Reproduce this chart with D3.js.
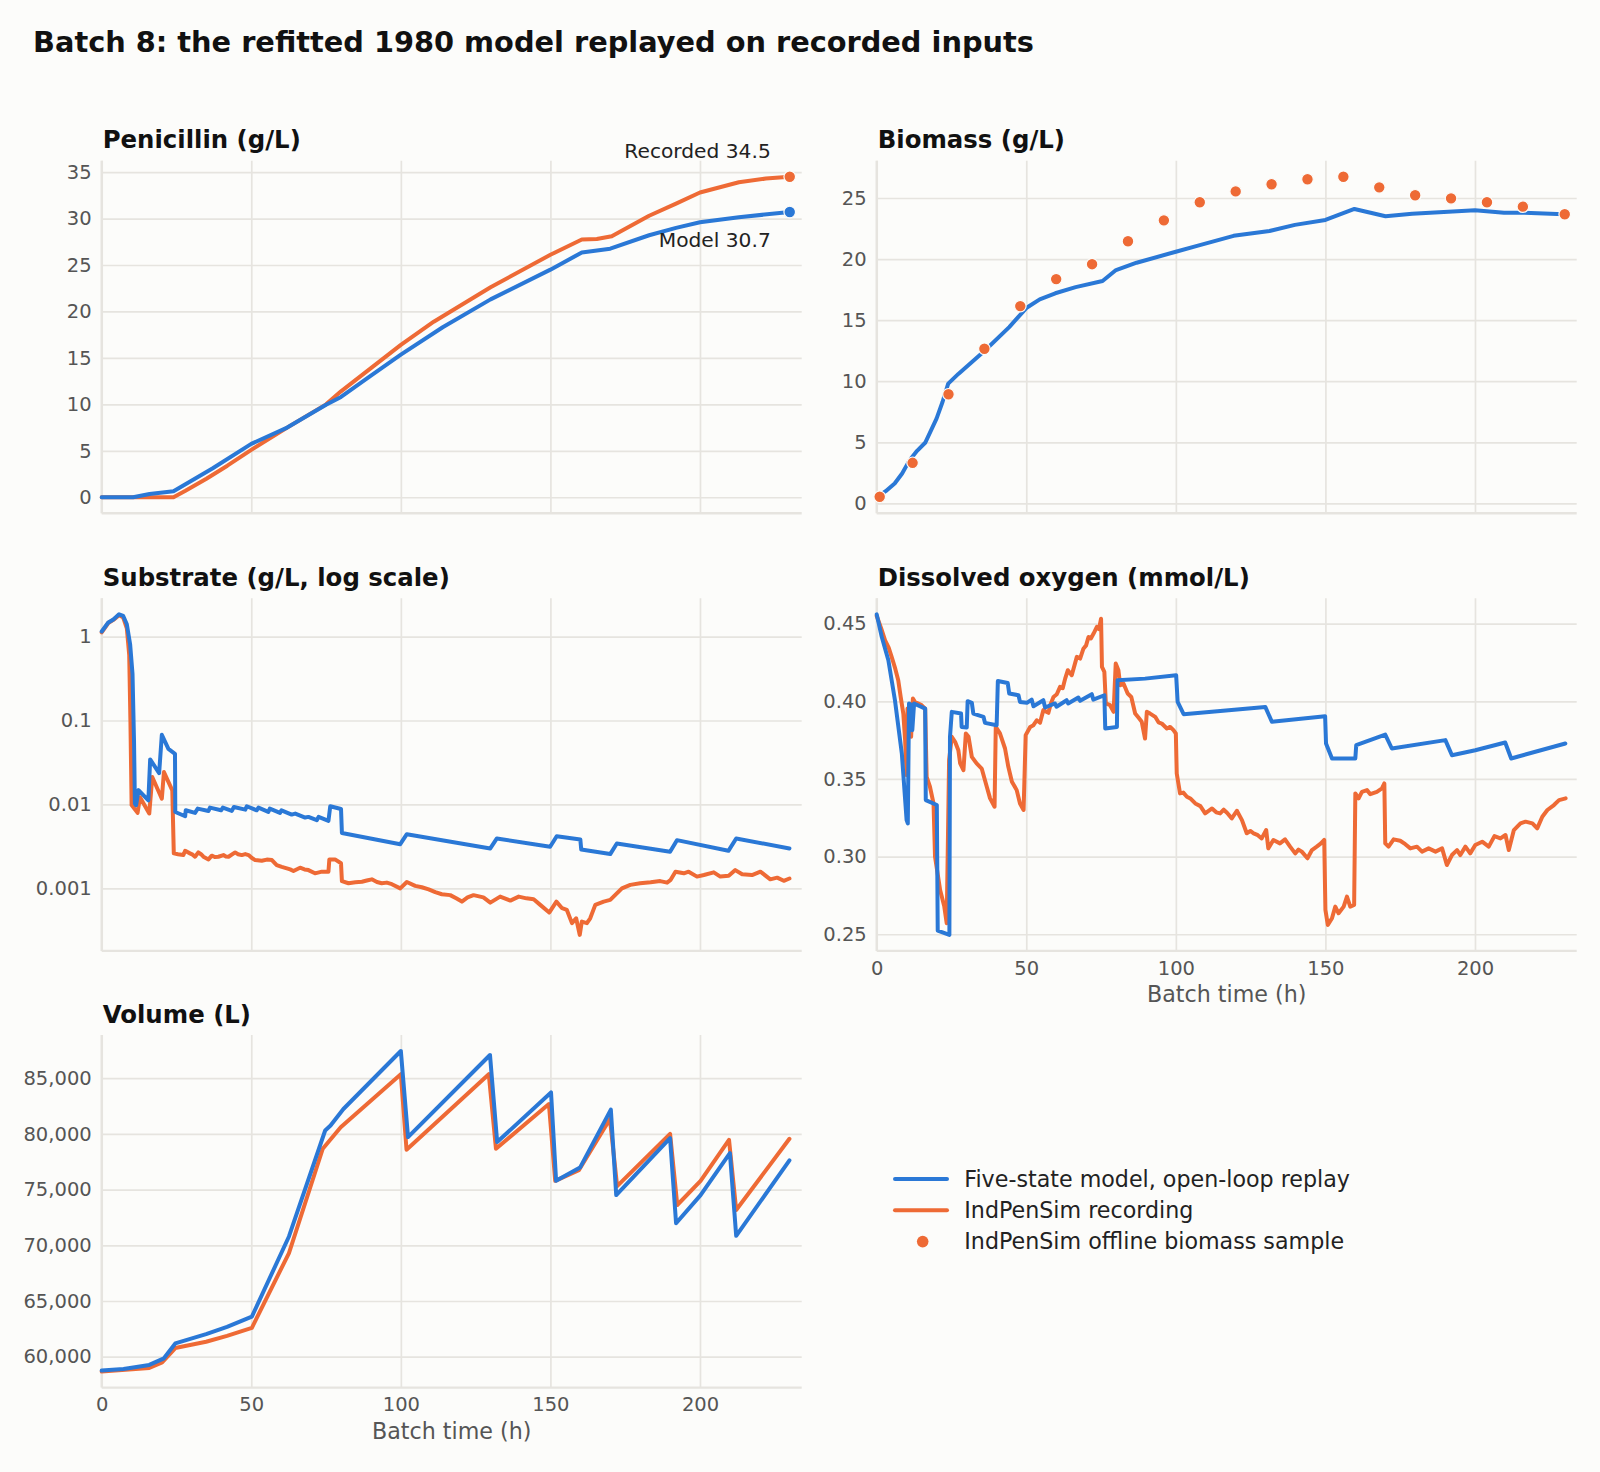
<!DOCTYPE html>
<html>
<head>
<meta charset="utf-8">
<script src="https://d3js.org/d3.v7.min.js"></script>
<style>
  body { margin: 0; background: #fcfcfa; }
  svg { display: block; font-family: "DejaVu Sans", sans-serif; }
</style>
</head>
<body>
<svg id="chart" width="1600" height="1472"></svg>
<script>
// ---- data (hours, value) ----
const hourTicks = [0, 50, 100, 150, 200];

const penModel = [[0,0],[10.5,0],[16,0.35],[24,0.65],[37,3.1],[50,5.75],[62,7.5],[75,9.95],[80,10.8],[90,13.1],[100,15.35],[114,18.3],[130,21.3],[150,24.5],[160.5,26.35],[170,26.75],[183,28.2],[192,29.0],[200,29.6],[213,30.15],[230,30.7]];
const penRecorded = [[0,0],[24,0],[28,0.7],[35,2.0],[42,3.4],[50,5.1],[62,7.5],[75,10.0],[80,11.4],[90,13.9],[100,16.4],[111,18.9],[130,22.6],[150,26.1],[160.5,27.75],[165.5,27.8],[170.5,28.1],[183,30.3],[192,31.6],[200,32.8],[213,33.9],[222,34.3],[230,34.5]];
const penTicks = [0, 5, 10, 15, 20, 25, 30, 35];

const bioModel = [[0,0.5],[0.8,0.63],[3,1.0],[6,1.63],[8.5,2.45],[11,3.54],[13.5,4.3],[16.2,4.96],[20,6.94],[22,8.3],[23.9,9.8],[27.3,10.6],[36,12.47],[44.3,14.43],[50,15.99],[54.5,16.7],[59.7,17.2],[66.5,17.7],[75.5,18.2],[80,19.1],[86.9,19.7],[100,20.6],[107.4,21.1],[119.3,21.9],[131.3,22.3],[139.8,22.8],[150,23.2],[159.7,24.1],[170.1,23.5],[179,23.7],[192.6,23.9],[200,24.0],[209.7,23.8],[216.5,23.8],[229.6,23.67]];
const bioSampleHours = [1, 12, 24, 36, 48, 60, 72, 84, 96, 108, 120, 132, 144, 156, 168, 180, 192, 204, 216, 230];
const bioSampleValues = [0.54, 3.32, 8.93, 12.66, 16.15, 18.36, 19.58, 21.46, 23.17, 24.65, 25.54, 26.12, 26.53, 26.74, 25.87, 25.22, 24.97, 24.65, 24.29, 23.67];
const bioTicks = [0, 5, 10, 15, 20, 25];

const subModel = [[0,1.15],[2.2,1.47],[3.9,1.6],[5.8,1.84],[7.2,1.76],[8.4,1.4],[9.5,0.81],[10.3,0.36],[10.8,0.058],[11.1,0.0102],[11.5,0.0098],[12.3,0.0148],[15.6,0.0112],[16.2,0.0344],[19.2,0.0236],[20.1,0.0674],[22.3,0.0458],[24.5,0.040],[24.6,0.00812],[27.9,0.00723],[28.1,0.00851],[31.2,0.00792],[32.1,0.00892],[35.7,0.00836],[36.2,0.00916],[39.9,0.00851],[40.5,0.00916],[43.5,0.00836],[44.2,0.00933],[48,0.00867],[48.5,0.00951],[51.8,0.00851],[52.4,0.00916],[55.7,0.00814],[56.2,0.00892],[59.6,0.00792],[60.1,0.00851],[63.5,0.00757],[64.7,0.00778],[68,0.00697],[69.1,0.0071],[71.9,0.00648],[72.5,0.0071],[75.8,0.00637],[76.4,0.00951],[80,0.00883],[80.3,0.00457],[99.8,0.00336],[102,0.00442],[129.9,0.00299],[132.1,0.00393],[149.9,0.00313],[152.1,0.00418],[160,0.00382],[160.3,0.0029],[170,0.00256],[172.2,0.00342],[190,0.00273],[192.3,0.00375],[209.5,0.0028],[212.1,0.00393],[229.9,0.00299]];
const subRecorded = [[0,1.12],[2.2,1.45],[3.9,1.58],[5.8,1.8],[7.2,1.68],[8.4,1.25],[9.2,0.6],[9.6,0.1],[10,0.00981],[12,0.00794],[12.8,0.0122],[15.9,0.0078],[16.9,0.0212],[20.1,0.0117],[20.8,0.0243],[23.6,0.0147],[24.1,0.00261],[25.5,0.00255],[27.3,0.00249],[27.9,0.0028],[29.5,0.00261],[30.4,0.00252],[31.2,0.00238],[32.3,0.00268],[33.2,0.00255],[34,0.00238],[35.7,0.00221],[36.8,0.00245],[37.8,0.00236],[39,0.00238],[40.7,0.00249],[41.5,0.0024],[42.4,0.00238],[44.6,0.00268],[45.6,0.00255],[46.8,0.00249],[48,0.00256],[49.1,0.00249],[50.2,0.0023],[51.3,0.00217],[53.5,0.00213],[55.2,0.0022],[56.9,0.00217],[58.5,0.00189],[60.2,0.0018],[61.9,0.00173],[63,0.00168],[64.1,0.00161],[66.3,0.00176],[67.8,0.00168],[69.1,0.00165],[71.3,0.00151],[73.6,0.00158],[75.8,0.00158],[76.1,0.00221],[78,0.00221],[80,0.00199],[80.3,0.00122],[82.5,0.00115],[84.8,0.00118],[87,0.0012],[88.6,0.00124],[90.3,0.00128],[92,0.00119],[93.6,0.00115],[95.3,0.00117],[97,0.00112],[99.8,0.001],[102,0.00119],[104.8,0.00107],[107,0.00103],[109.3,0.00097],[111.5,0.0009],[113.7,0.00085],[116.5,0.00083],[118.5,0.00076],[120.4,0.000695],[122.3,0.00078],[124.3,0.00083],[127.6,0.00078],[129.9,0.000676],[133.2,0.000797],[136.6,0.000715],[139.4,0.000797],[142,0.00076],[144.4,0.00074],[146.6,0.000635],[149.6,0.000515],[152,0.000695],[153.9,0.00058],[155.5,0.000553],[157.2,0.000385],[158.6,0.00044],[159.8,0.000279],[160.5,0.000402],[162.2,0.000385],[163.3,0.00044],[165,0.000635],[167.8,0.000695],[170,0.000728],[172.2,0.000873],[173.9,0.001],[176.7,0.0011],[180,0.00115],[183.5,0.00118],[186.7,0.00122],[189,0.00117],[190.1,0.00125],[191.8,0.00158],[194.6,0.00151],[196.2,0.00158],[199,0.00138],[201.3,0.00144],[204.6,0.00155],[206.8,0.00138],[209.6,0.00141],[211.8,0.00165],[214.1,0.00147],[217.4,0.00144],[220.2,0.00158],[223.5,0.00128],[225.8,0.00134],[228,0.00123],[229.9,0.00131]];
const subTicks = [0.001, 0.01, 0.1, 1];

const doModel = [[0,0.456],[1.7,0.4414],[3.9,0.4264],[6.1,0.4007],[8.4,0.3664],[10,0.3235],[10.4,0.3214],[10.8,0.3986],[11.4,0.398],[11.9,0.3814],[12.5,0.3986],[16.2,0.3953],[16.4,0.3364],[20.1,0.3332],[20.4,0.2524],[24.3,0.2496],[24.5,0.3771],[25.1,0.3932],[28.2,0.3921],[28.4,0.3835],[30.1,0.3831],[30.4,0.4001],[31.8,0.399],[32.3,0.3921],[35.7,0.39],[36.2,0.3861],[40.1,0.3846],[40.5,0.4131],[43.8,0.4118],[44.3,0.405],[47.4,0.4039],[47.9,0.3996],[50.2,0.399],[51.8,0.4011],[52.4,0.3968],[55.7,0.4007],[56.3,0.396],[59.6,0.3986],[60.1,0.3965],[63.5,0.4007],[64,0.3986],[67.4,0.4024],[68,0.4003],[71.9,0.4046],[72.4,0.4011],[76.1,0.4039],[76.4,0.3825],[80.3,0.3835],[80.5,0.4136],[89.7,0.4146],[100.1,0.4168],[100.6,0.3996],[102.6,0.3917],[129.9,0.3964],[132.1,0.3868],[149.9,0.3904],[150.2,0.3728],[152.2,0.3632],[160,0.3632],[160.3,0.3718],[170,0.3786],[172.2,0.3696],[190.1,0.375],[192.3,0.3653],[200.1,0.3685],[210.1,0.3735],[212.1,0.3632],[230.2,0.3728]];
const doRecorded = [[0,0.455],[1.5,0.447],[2.8,0.4393],[4,0.4345],[5,0.4286],[6.2,0.421],[7.2,0.4136],[8,0.403],[8.9,0.3921],[9.5,0.375],[10,0.3525],[10.3,0.3953],[10.8,0.39],[11.5,0.3771],[12.1,0.4018],[12.8,0.3995],[15,0.3975],[16.2,0.3953],[16.7,0.3514],[17.8,0.345],[19,0.3342],[19.5,0.30],[21.2,0.2785],[22.6,0.2678],[23.4,0.2571],[24.2,0.3621],[25.1,0.3771],[26.2,0.3739],[27.3,0.3685],[27.9,0.36],[29,0.3557],[29.8,0.3793],[30.7,0.3771],[31.8,0.3642],[33.4,0.36],[35.1,0.3567],[36.8,0.345],[37.9,0.3375],[39.4,0.3321],[39.8,0.3835],[41.2,0.3793],[42.9,0.3696],[44,0.3578],[45.2,0.3482],[46.8,0.3428],[47.9,0.3342],[49.1,0.33],[49.8,0.3782],[51.3,0.3835],[52.4,0.3846],[53.5,0.3878],[54.6,0.3862],[55.7,0.3943],[57.4,0.3926],[58.2,0.3985],[59.1,0.4028],[60.2,0.4045],[61.3,0.4093],[62.2,0.4085],[63,0.4146],[63.9,0.42],[65.2,0.4168],[66.9,0.4286],[68,0.4275],[69.1,0.4339],[70,0.436],[70.8,0.4414],[71.6,0.4405],[72.5,0.4436],[73.6,0.4479],[74.3,0.4465],[75,0.4532],[75.3,0.4221],[76.1,0.4189],[76.6,0.3986],[78,0.3975],[79.2,0.3932],[79.9,0.4243],[80.8,0.42],[81.4,0.4103],[82.5,0.4114],[83.9,0.405],[85.1,0.4028],[86.4,0.3921],[87.5,0.3895],[88.6,0.3868],[89.7,0.376],[90.3,0.3932],[91.4,0.3921],[93.1,0.39],[94.2,0.3865],[95.3,0.3857],[97,0.3825],[98.1,0.3835],[99.2,0.3814],[100,0.3793],[100.3,0.3535],[101.4,0.3407],[102.5,0.3412],[103.7,0.3385],[105,0.3372],[106.5,0.3342],[108.2,0.3325],[109.8,0.3278],[112.1,0.331],[113.5,0.3285],[114.8,0.3278],[116,0.3302],[117.1,0.3282],[118.7,0.3246],[120.4,0.3295],[122.1,0.3235],[123.7,0.315],[124.9,0.3165],[126,0.315],[127.4,0.3138],[128.7,0.3117],[130.2,0.3171],[130.9,0.3053],[132.6,0.3107],[134.8,0.3085],[136.5,0.3111],[138.2,0.3064],[139.9,0.3021],[141,0.3045],[142.1,0.3032],[144,0.2989],[145.5,0.3042],[147.1,0.3064],[148.5,0.3085],[149.6,0.3107],[150,0.2657],[150.8,0.256],[152.2,0.2603],[153.3,0.2678],[154.4,0.2635],[156.1,0.2678],[157.2,0.2742],[158.3,0.2678],[159.6,0.2689],[160,0.3407],[161.1,0.3375],[162.2,0.3417],[163.9,0.3428],[165,0.3402],[167.2,0.3417],[168.9,0.3439],[169.7,0.3471],[170,0.3085],[171.1,0.3064],[172.8,0.3111],[175,0.3102],[176.7,0.308],[178.4,0.3053],[180.6,0.3064],[182.3,0.3032],[184.5,0.3053],[186.8,0.3032],[189,0.3053],[190.6,0.2946],[192.3,0.301],[194,0.3042],[195.1,0.301],[196.8,0.3064],[198.4,0.3021],[200.1,0.3075],[202.4,0.3096],[204.6,0.3064],[206.5,0.3132],[208.5,0.3117],[210.2,0.3139],[211.3,0.3042],[213,0.3171],[215.2,0.3214],[216.9,0.3225],[219.2,0.3214],[220.8,0.3182],[222.5,0.3257],[224.2,0.33],[226.4,0.3332],[228.1,0.3364],[230.3,0.3375]];
const doTicks = [0.25, 0.30, 0.35, 0.40, 0.45];

const volModel = [[0,58751],[7.3,58900],[15.9,59257],[20.8,59851],[24.6,61189],[34.9,62022],[41.9,62676],[50.2,63597],[62.6,70792],[74.7,80306],[76.5,80751],[80.8,82238],[100,87441],[102.4,79711],[129.8,87084],[132.2,79265],[150.2,83725],[151.9,75786],[159.9,76976],[170.2,82179],[172,74508],[190,79622],[192,71981],[200.2,74508],[210,78284],[212.1,70851],[229.9,77630]];
const volRecorded = [[0,58662],[15.9,58989],[20.2,59495],[24.6,60773],[34.9,61338],[41.9,61873],[50.2,62587],[62.6,69306],[73.9,78670],[79.9,80603],[100,85360],[101.9,78581],[129.4,85360],[131.8,78670],[149.5,82684],[151.6,75786],[159.5,76738],[169.9,81346],[172.3,75311],[190,80009],[192.4,73617],[200.2,75786],[209.7,79473],[212.1,73170],[229.9,79562]];
const volTicks = [60000, 65000, 70000, 75000, 80000, 85000];

const seriesNames = ["Five-state model, open-loop replay", "IndPenSim recording", "IndPenSim offline biomass sample"];

// ---- layout ----
const BLUE = "#2a78d6", ORANGE = "#ee6a35", GRID = "#e6e4df", BG = "#fcfcfa";
const colX = [101.7, 876.7], rowY = [160.7, 598.3, 1035];
const W = 700, H = 352.6;
const xMax = 234;

const svg = d3.select("#chart");
svg.append("rect").attr("width", 1600).attr("height", 1472).attr("fill", BG);

svg.append("text")
   .attr("x", 33).attr("y", 51.7)
   .attr("font-size", 28.8).attr("font-weight", "bold").attr("fill", "#111")
   .text("Batch 8: the refitted 1980 model replayed on recorded inputs");

function padded(lo, hi) {
    const p = (hi - lo) * 0.05;
    return [lo - p, hi + p];
}

const panels = [
    {title: "Penicillin (g/L)", col: 0, row: 0, lines: [penRecorded, penModel], ticks: penTicks, fmt: d3.format("d"), xLabels: false, end: true},
    {title: "Biomass (g/L)", col: 1, row: 0, lines: [bioModel], ticks: bioTicks, fmt: d3.format("d"), xLabels: false, samples: true},
    {title: "Substrate (g/L, log scale)", col: 0, row: 1, lines: [subRecorded, subModel], ticks: subTicks, fmt: d => String(d), xLabels: false, log: true},
    {title: "Dissolved oxygen (mmol/L)", col: 1, row: 1, lines: [doRecorded, doModel], ticks: doTicks, fmt: d3.format(".2f"), xLabels: true},
    {title: "Volume (L)", col: 0, row: 2, lines: [volRecorded, volModel], ticks: volTicks, fmt: d3.format(","), xLabels: true}
];
const modelSeries = [penModel, bioModel, subModel, doModel, volModel];

panels.forEach(p => {
    const g = svg.append("g").attr("transform", `translate(${colX[p.col]},${rowY[p.row]})`);
    const x = d3.scaleLinear().domain([0, xMax]).range([0, W]);

    let vals = p.lines.flat().map(d => d[1]);
    if (p.samples) vals = vals.concat(bioSampleValues);
    let y;
    if (p.log) {
        const ext = d3.extent(vals, v => Math.log10(v));
        const dom = padded(ext[0], ext[1]);
        y = d3.scaleLog().domain([Math.pow(10, dom[0]), Math.pow(10, dom[1])]).range([H, 0]);
    } else {
        const ext = d3.extent(vals);
        y = d3.scaleLinear().domain(padded(ext[0], ext[1])).range([H, 0]);
    }

    // grid + tick labels
    const xAxis = g.append("g").attr("transform", `translate(0,${H})`)
        .call(d3.axisBottom(x).tickValues(hourTicks).tickSize(-H).tickPadding(10)
              .tickFormat(p.xLabels ? d3.format("d") : ""));
    const yAxis = g.append("g")
        .call(d3.axisLeft(y).tickValues(p.ticks).tickSize(-W).tickPadding(10).tickFormat(p.fmt));
    [xAxis, yAxis].forEach(a => {
        a.select(".domain").remove();
        a.selectAll(".tick line").attr("stroke", GRID).attr("stroke-width", 1.7);
        a.selectAll(".tick text").attr("fill", "#555").attr("font-size", 19.5)
         .attr("font-family", "DejaVu Sans, sans-serif");
    });

    // spines
    g.append("line").attr("x1", 0).attr("x2", 0).attr("y1", 0).attr("y2", H)
     .attr("stroke", GRID).attr("stroke-width", 2.4);
    g.append("line").attr("x1", 0).attr("x2", W).attr("y1", H).attr("y2", H)
     .attr("stroke", GRID).attr("stroke-width", 2.4);

    const line = d3.line().x(d => x(d[0])).y(d => y(d[1]));
    p.lines.forEach(s => {
        g.append("path").datum(s)
         .attr("d", line)
         .attr("fill", "none")
         .attr("stroke", modelSeries.includes(s) ? BLUE : ORANGE)
         .attr("stroke-width", 4)
         .attr("stroke-linejoin", "round")
         .attr("stroke-linecap", "round");
    });

    if (p.samples) {
        g.selectAll("circle.sample").data(bioSampleHours)
         .join("circle").attr("class", "sample")
         .attr("cx", d => x(d))
         .attr("cy", (d, i) => y(bioSampleValues[i]))
         .attr("r", 5.8)
         .attr("fill", ORANGE)
         .attr("stroke", BG).attr("stroke-width", 1.2);
    }

    if (p.end) {
        const lastRec = penRecorded[penRecorded.length - 1];
        const lastMod = penModel[penModel.length - 1];
        [[lastRec, ORANGE], [lastMod, BLUE]].forEach(([d, c]) => {
            g.append("circle").attr("cx", x(d[0])).attr("cy", y(d[1])).attr("r", 5.8)
             .attr("fill", c).attr("stroke", BG).attr("stroke-width", 1.2);
        });
        g.append("text").attr("x", x(lastRec[0]) - 19).attr("y", y(lastRec[1]) - 19)
         .attr("text-anchor", "end").attr("font-size", 20.2).attr("fill", "#222")
         .text("Recorded " + d3.format(".1f")(lastRec[1]));
        g.append("text").attr("x", x(lastMod[0]) - 19).attr("y", y(lastMod[1]) + 35)
         .attr("text-anchor", "end").attr("font-size", 20.2).attr("fill", "#222")
         .text("Model " + d3.format(".1f")(lastMod[1]));
    }

    g.append("text").attr("x", 1).attr("y", -12.4)
     .attr("font-size", 24.4).attr("font-weight", "bold").attr("fill", "#111")
     .text(p.title);

    if (p.xLabels) {
        g.append("text").attr("x", W / 2).attr("y", H + 51)
         .attr("text-anchor", "middle").attr("font-size", 22.2).attr("fill", "#555")
         .text("Batch time (h)");
    }
});

// legend
const legend = svg.append("g").attr("transform", "translate(895,1179)");
const rowGap = 31.3;
seriesNames.forEach((name, i) => {
    const gy = i * rowGap;
    if (i < 2) {
        legend.append("line").attr("x1", 0).attr("x2", 52).attr("y1", gy).attr("y2", gy)
              .attr("stroke", i === 0 ? BLUE : ORANGE).attr("stroke-width", 4)
              .attr("stroke-linecap", "round");
    } else {
        legend.append("circle").attr("cx", 27.7).attr("cy", gy).attr("r", 5.8).attr("fill", ORANGE);
    }
    legend.append("text").attr("x", 69.3).attr("y", gy).attr("dy", "0.35em")
          .attr("font-size", 22.2).attr("fill", "#222").text(name);
});
</script>
</body>
</html>
